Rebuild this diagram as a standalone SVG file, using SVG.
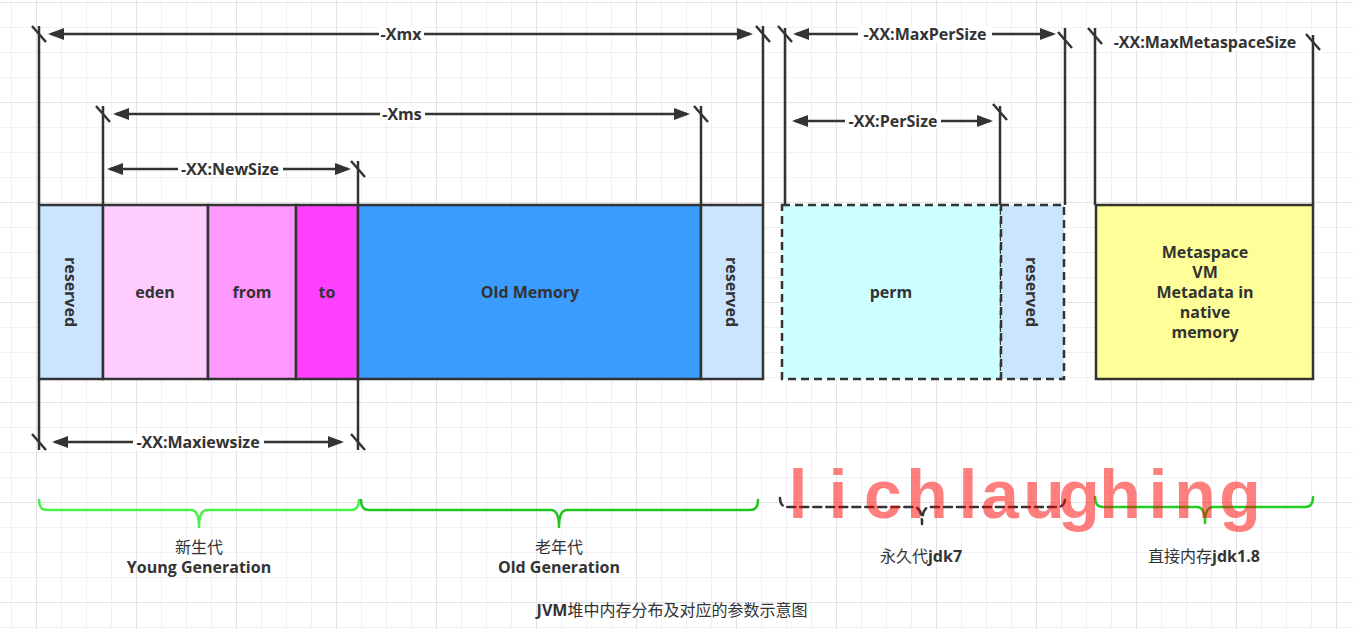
<svg xmlns="http://www.w3.org/2000/svg" width="1353" height="629" viewBox="0 0 1353 629">
<defs>
<pattern id="grid" patternUnits="userSpaceOnUse" x="36" y="2" width="100" height="100">
<rect x="0" y="0" width="100" height="100" fill="#ffffff"/>
<rect x="25" y="0" width="1" height="100" fill="#f1f1f1"/>
<rect x="50" y="0" width="1" height="100" fill="#f1f1f1"/>
<rect x="75" y="0" width="1" height="100" fill="#f1f1f1"/>
<rect x="0" y="25" width="100" height="1" fill="#f1f1f1"/>
<rect x="0" y="50" width="100" height="1" fill="#f1f1f1"/>
<rect x="0" y="75" width="100" height="1" fill="#f1f1f1"/>
<rect x="0" y="0" width="1" height="100" fill="#e4e4e4"/>
<rect x="0" y="0" width="100" height="1" fill="#e4e4e4"/>
</pattern>
<marker id="arr" viewBox="0 0 16 12" refX="13" refY="6" markerWidth="16" markerHeight="12" markerUnits="userSpaceOnUse" orient="auto-start-reverse">
<path d="M0,0 L16,6 L0,12 z" fill="#333333"/>
</marker>
</defs>
<style>
.box{stroke:#333333;stroke-width:2.5}
.dash{stroke-dasharray:8 5}
.t{font-family:"Open Sans","Noto Sans CJK SC",sans-serif;font-size:16px;font-weight:bold;fill:#333333;text-anchor:middle}
.cjk{font-weight:normal}
.ln{stroke:#333333;stroke-width:2.5;fill:none}
.dim{stroke:#333333;stroke-width:2.5;fill:none;marker-start:url(#arr);marker-end:url(#arr)}
.bg{fill:#ffffff}
.brace{fill:none;stroke-width:2.5;stroke-linecap:round;stroke-linejoin:round}
.wm{font-family:"Liberation Sans",Arial,sans-serif;font-size:68px;font-weight:bold;fill:#ff0000;fill-opacity:0.5;text-anchor:middle}
</style>
<rect x="0" y="0" width="1353" height="629" fill="url(#grid)"/>

<g id="connectors">
<path class="ln" d="M39,26 V205 M39,379 V450 M103,106 V205 M358,161 V205 M358,379 V450 M701,106 V205 M763,26 V205 M785,28 V205 M1000,106 V205 M1065,28 V205 M1095,28 V205 M1313,35 V205"/>
<path class="ln" d="M32,26 L46,42 M756,26 L770,42 M96,106 L110,122 M694,106 L708,122 M351,161 L365,177 M32,434 L46,450 M351,434 L365,450 M778,26 L792,42 M1058,32 L1072,48 M993,104 L1007,120 M1088,28 L1102,44 M1306,34 L1320,50"/>
<line class="dim" x1="51" y1="34" x2="750" y2="34"/>
<line class="dim" x1="116" y1="114" x2="687" y2="114"/>
<line class="dim" x1="110" y1="169" x2="348" y2="169"/>
<line class="dim" x1="55" y1="442" x2="341" y2="442"/>
<line class="dim" x1="796" y1="34" x2="1053" y2="34"/>
<line class="dim" x1="795" y1="121" x2="990" y2="121"/>
<path class="brace" stroke="#4cf04c" d="M39,500 Q39,510 47,510 L191,510 Q199,510 199,527 Q199,510 207,510 L351,510 Q359,510 359,500"/>
<path class="brace" stroke="#22c422" d="M361,500 Q361,510 369,510 L551,510 Q559,510 559,527 Q559,510 567,510 L750,510 Q758,510 758,500"/>
<path class="brace dash" stroke="#333333" d="M780,498 Q780,507 788,507 L914,507 Q922,507 922,524 Q922,507 930,507 L1057,507 Q1065,507 1065,498"/>
<path class="brace" stroke="#22cc22" d="M1095,497 Q1095,507 1103,507 L1197,507 Q1205,507 1205,523 Q1205,507 1213,507 L1305,507 Q1313,507 1313,497"/>
</g>

<g id="dim-labels">
<rect class="bg" x="379" y="26" width="45" height="16"/>
<text class="t" x="401" y="40">-Xmx</text>
<rect class="bg" x="380" y="106" width="45" height="16"/>
<text class="t" x="402" y="120">-Xms</text>
<rect class="bg" x="178" y="161" width="105" height="16"/>
<text class="t" x="230" y="175">-XX:NewSize</text>
<rect class="bg" x="133" y="434" width="131" height="16"/>
<text class="t" x="198" y="448">-XX:Maxiewsize</text>
<rect class="bg" x="858" y="26" width="134" height="16"/>
<text class="t" x="925" y="40">-XX:MaxPerSize</text>
<rect class="bg" x="845" y="113" width="96" height="16"/>
<text class="t" x="893" y="127">-XX:PerSize</text>
<rect class="bg" x="1107" y="33" width="196" height="17"/>
<text class="t" x="1205" y="48">-XX:MaxMetaspaceSize</text>
</g>

<g id="reserved-left">
<rect class="box" x="39" y="205" width="64" height="174" fill="#cce5ff"/>
<text class="t" transform="translate(71,292) rotate(90)" x="0" y="6">reserved</text>
</g>
<g id="eden">
<rect class="box" x="103" y="205" width="105" height="174" fill="#ffccff"/>
<text class="t" x="155" y="298">eden</text>
</g>
<g id="from">
<rect class="box" x="208" y="205" width="88" height="174" fill="#ff99ff"/>
<text class="t" x="252" y="298">from</text>
</g>
<g id="to">
<rect class="box" x="296" y="205" width="62" height="174" fill="#ff40ff"/>
<text class="t" x="327" y="298">to</text>
</g>
<g id="old-memory">
<rect class="box" x="358" y="205" width="343" height="174" fill="#3a9cff"/>
<text class="t" x="530" y="298">Old Memory</text>
</g>
<g id="reserved-old">
<rect class="box" x="701" y="205" width="62" height="174" fill="#cce5ff"/>
<text class="t" transform="translate(732,292) rotate(90)" x="0" y="6">reserved</text>
</g>
<g id="perm">
<rect class="box dash" x="782" y="205" width="219" height="174" fill="#ccffff"/>
<text class="t" x="891" y="298">perm</text>
</g>
<g id="reserved-perm">
<rect class="box dash" x="1001" y="205" width="63" height="174" fill="#cce5ff"/>
<text class="t" transform="translate(1032,292) rotate(90)" x="0" y="6">reserved</text>
</g>
<g id="metaspace">
<rect class="box" x="1096" y="205" width="217" height="174" fill="#ffff99"/>
<text class="t" x="1205" y="258">Metaspace</text>
<text class="t" x="1205" y="278">VM</text>
<text class="t" x="1205" y="298">Metadata in</text>
<text class="t" x="1205" y="318">native</text>
<text class="t" x="1205" y="338">memory</text>
</g>

<g id="young-label">
<text class="t cjk" x="199" y="553">新生代</text>
<text class="t" x="199" y="573">Young Generation</text>
</g>
<g id="old-label">
<text class="t cjk" x="559" y="553">老年代</text>
<text class="t" x="559" y="573">Old Generation</text>
</g>
<g id="perm-label">
<text class="t" x="921" y="562"><tspan class="cjk">永久代</tspan>jdk7</text>
</g>
<g id="direct-label">
<text class="t" x="1204" y="562"><tspan class="cjk">直接内存</tspan>jdk1.8</text>
</g>
<g id="title">
<text class="t" x="672" y="616">JVM<tspan class="cjk">堆中内存分布及对应的参数示意图</tspan></text>
</g>

<text class="wm" x="798 838 883 927 968 1000 1044 1079 1120 1158 1195 1240" y="518">lichlaughing</text>
</svg>
